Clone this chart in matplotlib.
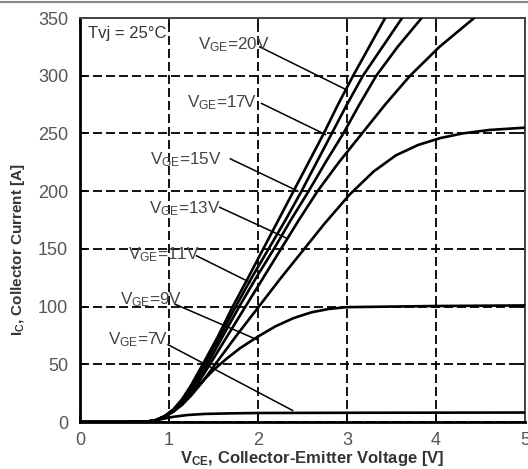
import matplotlib
matplotlib.use("Agg")
import matplotlib.pyplot as plt
from matplotlib.lines import Line2D

plt.rcParams['font.family'] = ['Liberation Sans', 'DejaVu Sans']
plt.rcParams['mathtext.fontset'] = 'custom'
plt.rcParams['mathtext.rm'] = 'Liberation Sans'
plt.rcParams['mathtext.bf'] = 'Liberation Sans:bold'

# output characteristic
# VGE=20V
x20 = [0, 0.5, 0.75, 0.85, 0.95, 1.05, 1.15, 1.25, 1.38, 1.55, 1.71, 1.89, 2.06, 2.23, 2.40, 2.57, 2.74, 2.90, 3.07, 3.25, 3.43]
y20 = [0, 0, 0.3, 1.5, 5, 11, 20, 32, 50, 74, 99, 125, 150, 175, 200, 225, 250, 275, 300, 325, 350]
# VGE=17V
x17 = [0, 0.5, 0.75, 0.85, 0.95, 1.05, 1.15, 1.27, 1.40, 1.58, 1.75, 1.93, 2.12, 2.31, 2.49, 2.66, 2.83, 3.00, 3.18, 3.40, 3.62]
y17 = [0, 0, 0.3, 1.5, 5, 10.5, 19, 31, 50, 75, 100, 125, 150, 175, 200, 225, 250, 275, 300, 325, 350]
# VGE=15V
x15 = [0, 0.5, 0.75, 0.85, 0.95, 1.05, 1.15, 1.28, 1.43, 1.61, 1.79, 1.98, 2.18, 2.37, 2.57, 2.76, 2.96, 3.14, 3.33, 3.57, 3.84]
y15 = [0, 0, 0.3, 1.5, 5, 10, 18, 30, 50, 75, 100, 125, 150, 175, 200, 225, 250, 275, 300, 325, 350]
# VGE=13V
x13 = [0, 0.5, 0.75, 0.85, 0.95, 1.05, 1.15, 1.29, 1.46, 1.66, 1.86, 2.06, 2.26, 2.46, 2.67, 2.91, 3.17, 3.43, 3.71, 4.04, 4.43]
y13 = [0, 0, 0.3, 1.5, 5, 9.5, 17, 29, 50, 75, 100, 125, 150, 175, 200, 225, 250, 275, 300, 325, 350]
# VGE=11V
x11 = [0, 0.5, 0.75, 0.85, 0.95, 1.05, 1.15, 1.25, 1.38, 1.52, 1.76, 2.00, 2.25, 2.50, 2.75, 3.03, 3.30, 3.55, 3.80, 4.05, 4.30, 4.60, 5.00]
y11 = [0, 0, 0.3, 1.5, 4.5, 9, 15, 23, 35, 50, 75, 99, 124, 148, 172, 197, 217, 231, 240, 246, 250, 253, 255]
# VGE=9V
x9 = [0, 0.5, 0.75, 0.85, 0.95, 1.05, 1.20, 1.35, 1.50, 1.65, 1.80, 2.00, 2.20, 2.40, 2.60, 2.80, 3.00, 3.50, 4.00, 5.00]
y9 = [0, 0, 0.3, 1.5, 4.5, 9, 20, 33, 45, 55, 64, 74, 83, 90, 95, 98, 99.5, 100, 100.5, 101]
# VGE=7V
x7 = [0, 0.5, 0.75, 0.85, 0.95, 1.05, 1.20, 1.40, 1.70, 2.00, 3.00, 5.00]
y7 = [0, 0, 0.3, 1.3, 3, 4.5, 6, 7, 7.5, 7.8, 8, 8.2]

# labels: text, text anchor (x, y), leader line start and end (x, y)
labels = ['20', '17', '15', '13', '11', '9', '7']
label_pos = [(1.33, 327), (1.20, 277), (0.79, 227), (0.78, 185), (0.54, 145), (0.45, 106), (0.31, 71)]
leader_start = [(2.02, 325), (2.04, 276), (1.69, 228), (1.57, 186), (1.31, 144), (1.07, 102), (0.99, 67)]
leader_end = [(2.99, 288), (2.76, 249), (2.45, 200), (2.33, 159), (1.91, 121), (2.00, 71), (2.39, 10)]

fig = plt.figure(figsize=(5.28, 4.69), dpi=100)
ax = fig.add_axes([0.1515, 0.1002, 0.8425, 0.8614])

for xs, ys in [(x20, y20), (x17, y17), (x15, y15), (x13, y13), (x11, y11), (x9, y9), (x7, y7)]:
    ax.plot(xs, ys, color='black', lw=1.9, solid_joinstyle='round', zorder=3)

for lab, p, s, e in zip(labels, label_pos, leader_start, leader_end):
    ax.text(p[0], p[1], r'$\mathregular{V_{GE}}$=' + lab + 'V', fontsize=12.3,
            color='#444444', va='center', ha='left', zorder=4)
    ax.plot([s[0], e[0]], [s[1], e[1]], color='black', lw=1.1, zorder=3)

ax.text(0.09, 337, 'Tvj = 25°C', fontsize=12, color='#333333', va='center', ha='left')

ax.set_xlim(0, 5)
ax.set_ylim(0, 350)
ax.set_xticks([0, 1, 2, 3, 4, 5])
ax.set_yticks([0, 50, 100, 150, 200, 250, 300, 350])
ax.grid(True, color='black', lw=1.3, linestyle=(0, (5, 2.2)))
ax.tick_params(direction='in', length=5, width=1.3, top=True, right=True,
               labelsize=13, labelcolor='#555555')
ax.tick_params(axis='x', pad=7)
ax.tick_params(axis='y', pad=8.5)
for side in ['left', 'bottom']:
    ax.spines[side].set_linewidth(2.0)
for side in ['top', 'right']:
    ax.spines[side].set_linewidth(1.4)
    ax.spines[side].set_color('#444444')

ax.set_xlabel(r'$\mathbf{V_{CE}}$, Collector-Emitter Voltage [V]', fontsize=12,
              fontweight='bold', color='#333333')
ax.xaxis.set_label_coords(0.521, -0.068)
ax.set_ylabel(r'$\mathbf{I_{C}}$, Collector Current [A]', fontsize=11,
              fontweight='bold', color='#333333')
ax.yaxis.set_label_coords(-0.119, 0.428)

fig.add_artist(Line2D([0, 1], [0.995, 0.995], color='#888888', lw=1.5))

fig.savefig('out.png', dpi=100)
